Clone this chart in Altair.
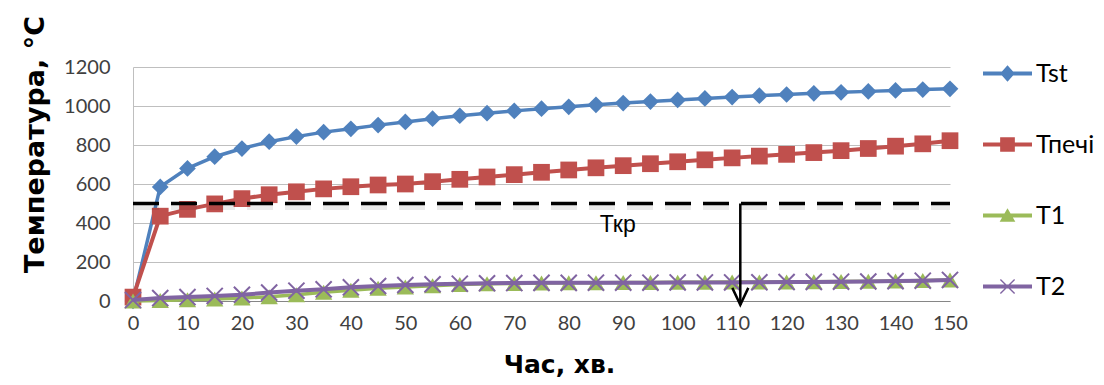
import altair as alt
import pandas as pd

# ---- data ----
time_min = list(range(0, 151, 5))
tst = [0, 585, 680, 740, 782, 817, 843, 866, 883, 902,
       918, 935, 950, 963, 975, 986, 996, 1006, 1015, 1023,
       1031, 1039, 1046, 1053, 1059, 1065, 1070, 1075, 1080, 1084, 1088]
tpechi = [20, 435, 470, 498, 525, 545, 560, 575, 586, 595,
          600, 612, 624, 636, 648, 660, 672, 683, 694, 704,
          714, 724, 734, 743, 752, 761, 771, 782, 794, 806, 822]
t1 = [0, 3, 6, 10, 15, 22, 32, 45, 55, 65,
      72, 78, 84, 88, 90, 92, 93, 94, 95, 95,
      96, 96, 97, 97, 98, 99, 100, 101, 103, 105, 108]
t2 = [5, 15, 20, 26, 32, 43, 53, 60, 70, 77,
      82, 86, 89, 91, 92, 93, 93, 94, 94, 94,
      95, 95, 95, 96, 97, 98, 99, 100, 102, 104, 108]

series_names = ["Tst", "Тпечі", "T1", "T2"]
series_colors = ["#4F81BD", "#C0504D", "#9BBB59", "#8064A2"]
x_ticks = list(range(0, 151, 10))
y_ticks = list(range(0, 1201, 200))

tkr_value = 500          # critical temperature (dashed line)
tkr_label = "Ткр"
tkr_label_t = 89
tkr_label_v = 355
arrow_t = 111.5          # time where the arrow drops
arrow_bottom = -20

# ---- tables ----
rows = []
for name, vals in zip(series_names, [tst, tpechi, t1, t2]):
    for t, v in zip(time_min, vals):
        rows.append({"t": t, "v": v, "series": name})
df = pd.DataFrame(rows)
df_tkr = pd.DataFrame({"t": [time_min[0]], "t2": [time_min[-1]], "v": [tkr_value]})
df_arrow = pd.DataFrame({"t": [arrow_t], "v": [tkr_value], "v2": [arrow_bottom]})
df_label = pd.DataFrame({"t": [tkr_label_t], "v": [tkr_label_v], "txt": [tkr_label]})

xscale = alt.Scale(domain=[0, 150], nice=False)
yscale = alt.Scale(domain=[0, 1200], nice=False)

x_axis = alt.Axis(values=x_ticks, grid=False, ticks=False, domainColor="#868686", format="d",
                  labelOverlap=False, labelBound=False, labelFlush=False,
                  labelFont="Lato", labelFontSize=20, labelColor="#404040", labelPadding=12,
                  titleFont="DejaVu Sans", titleFontSize=25, titleFontWeight="bold", titleColor="black",
                  titleX=426, titleY=63, titleAlign="center", titleBaseline="middle")
y_axis = alt.Axis(values=y_ticks, tickCount=7, grid=True, gridColor="#BFBFBF", ticks=False,
                  domainColor="#BFBFBF", format="d", labelOverlap=False, labelBound=False,
                  labelFlush=False,
                  labelFont="Lato", labelFontSize=20, labelColor="#404040", labelPadding=23,
                  titleFont="DejaVu Sans", titleFontSize=27, titleFontWeight="bold", titleColor="black",
                  titleX=-98, titleY=77, titleAlign="center", titleBaseline="middle", titleAngle=270)

X = alt.X("t:Q", scale=xscale, axis=x_axis, title="Час, хв.")
Y = alt.Y("v:Q", scale=yscale, axis=y_axis, title="Температура, °С")

base = alt.Chart(df)
marker_shapes = ["diamond", "square", "triangle-up", "M-1,-1L1,1M-1,1L1,-1"]
marker_sizes = [280, 280, 300, 260]
line_widths = [3.5, 4, 3.5, 4]

layers = []
for i, name in enumerate(series_names):
    sub = base.transform_filter(alt.datum.series == name)
    layers.append(sub.mark_line(color=series_colors[i], strokeWidth=line_widths[i]).encode(x=X, y=Y))
    if i == 3:
        pts = sub.mark_point(shape=marker_shapes[i], size=marker_sizes[i], filled=False,
                             color=series_colors[i], strokeWidth=2, opacity=1)
    else:
        pts = sub.mark_point(shape=marker_shapes[i], size=marker_sizes[i], filled=True,
                             color=series_colors[i], opacity=1, strokeWidth=0)
    layers.append(pts.encode(x=X, y=Y))

# legend symbols: line segment + marker (filled paths, unit box scaled by symbol size)
bar = "M-1,-0.08L1,-0.08L1,0.08L-1,0.08Z"
legend_paths = [
    bar + "M0,-0.34L0.3,0L0,0.34L-0.3,0Z",
    bar + "M-0.3,-0.3L0.3,-0.3L0.3,0.3L-0.3,0.3Z",
    bar + "M0,-0.3L0.32,0.26L-0.32,0.26Z",
    bar + "M-0.31,-0.27L-0.27,-0.31L0.31,0.27L0.27,0.31Z"
        + "M0.27,-0.31L0.31,-0.27L-0.27,0.31L-0.31,0.27Z",
]
leg = alt.Legend(title=None, orient="none", legendX=850, legendY=-18,
                 labelFont="Lato", labelFontSize=25, labelColor="black",
                 symbolSize=2401, symbolStrokeWidth=0, symbolOpacity=1,
                 rowPadding=33, labelOffset=4)
legend_layer = base.transform_filter("false").mark_point(filled=True, opacity=1).encode(
    x=X, y=Y,
    color=alt.Color("series:N", scale=alt.Scale(domain=series_names, range=series_colors), legend=leg),
    shape=alt.Shape("series:N", scale=alt.Scale(domain=series_names, range=legend_paths), legend=leg),
)

tkr_shadow = alt.Chart(df_tkr).mark_rule(color="black", opacity=0.08, strokeWidth=7, yOffset=3,
                                         strokeDash=[26, 12]).encode(x=X, x2="t2:Q", y=Y)
tkr_line = alt.Chart(df_tkr).mark_rule(color="black", strokeWidth=3.5, strokeDash=[26, 12]).encode(
    x=X, x2="t2:Q", y=Y)
arrow_line = alt.Chart(df_arrow).mark_rule(color="black", strokeWidth=2.5).encode(x=X, y=Y, y2="v2:Q")
arrow_head = alt.Chart(df_arrow).mark_point(shape="M-0.47,-1L0,0L0.47,-1", size=1156, filled=False,
                                            color="black", strokeWidth=2.5, opacity=1).encode(
    x=X, y=alt.Y("v2:Q", scale=yscale, axis=y_axis, title="Температура, °С"))
label = alt.Chart(df_label).mark_text(font="Liberation Sans", fontSize=23, color="black",
                                      align="center", baseline="alphabetic").encode(
    x=X, y=Y, text="txt:N")

chart = alt.layer(*layers, legend_layer, tkr_shadow, tkr_line, arrow_line, arrow_head, label).properties(
    width=817, height=234,
    autosize=alt.AutoSizeParams(type="none"),
    padding={"left": 125, "top": 59, "right": 146, "bottom": 76},
    background="white",
).configure_view(stroke=None).configure_axis(labelOverlap=False)

chart.save("out.html", embed_options={"renderer": "svg", "actions": False})
